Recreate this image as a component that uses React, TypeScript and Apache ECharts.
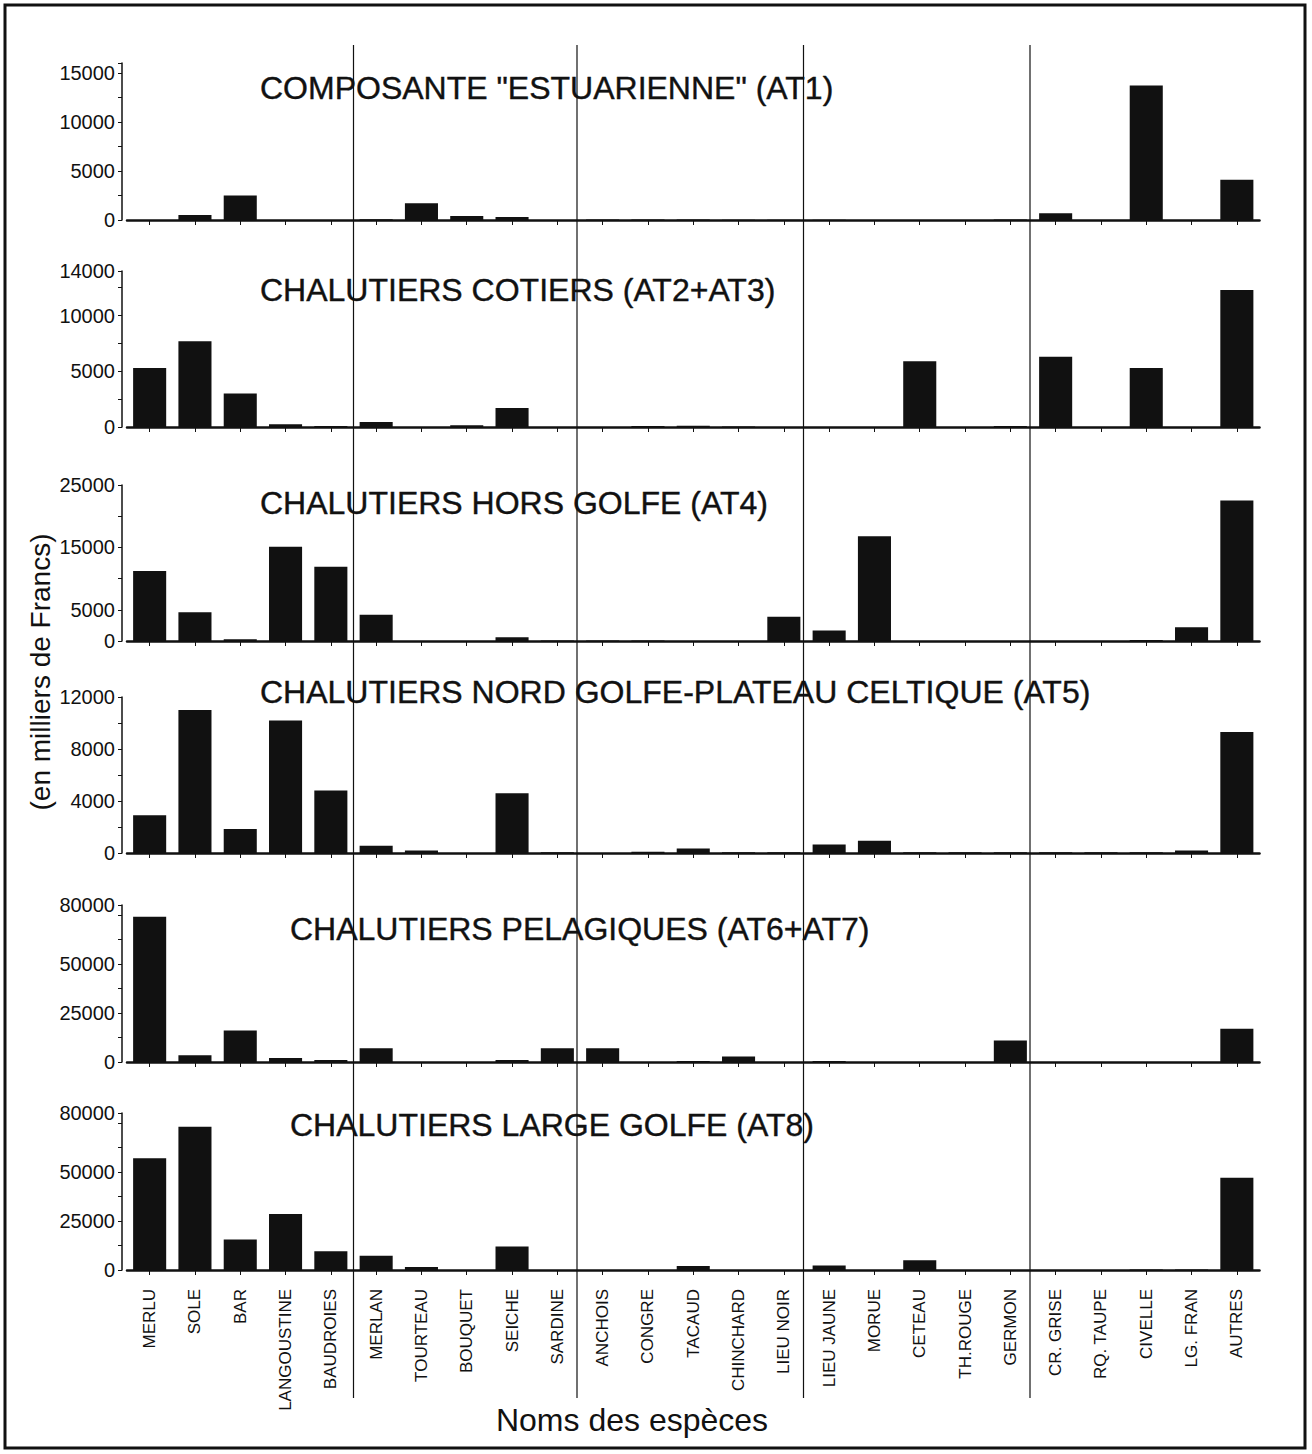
import React, { useEffect, useRef } from "react";
import * as echarts from "echarts";

// ---- data ----
const categories = [
  "MERLU", "SOLE", "BAR", "LANGOUSTINE", "BAUDROIES",
  "MERLAN", "TOURTEAU", "BOUQUET", "SEICHE", "SARDINE",
  "ANCHOIS", "CONGRE", "TACAUD", "CHINCHARD", "LIEU NOIR",
  "LIEU JAUNE", "MORUE", "CETEAU", "TH.ROUGE", "GERMON",
  "CR. GRISE", "RQ. TAUPE", "CIVELLE", "LG. FRAN", "AUTRES",
];

const panelTitles = [
  'COMPOSANTE "ESTUARIENNE" (AT1)',
  "CHALUTIERS COTIERS (AT2+AT3)",
  "CHALUTIERS HORS GOLFE (AT4)",
  "CHALUTIERS NORD GOLFE-PLATEAU CELTIQUE (AT5)",
  "CHALUTIERS PELAGIQUES (AT6+AT7)",
  "CHALUTIERS LARGE GOLFE (AT8)",
];

const valuesAT1 = [0, 500, 2500, 0, 0, 80, 1700, 400, 300, 0, 60, 60, 60, 30, 30, 30, 0, 0, 0, 50, 700, 0, 13700, 0, 4100];
const valuesAT23 = [5300, 7700, 3000, 250, 100, 450, 0, 150, 1700, 0, 0, 100, 120, 50, 0, 0, 0, 5900, 0, 80, 6300, 0, 5300, 0, 12300];
const valuesAT4 = [11200, 4600, 300, 15100, 11900, 4200, 0, 0, 600, 100, 100, 100, 0, 0, 3900, 1700, 16800, 0, 0, 0, 0, 0, 150, 2200, 22500];
const valuesAT5 = [2900, 11000, 1850, 10200, 4800, 550, 200, 0, 4600, 50, 0, 100, 350, 50, 50, 650, 950, 50, 50, 50, 50, 50, 50, 200, 9300];
const valuesAT67 = [74000, 3500, 16000, 2000, 1000, 7000, 0, 0, 1000, 7000, 7000, 0, 500, 2800, 0, 500, 0, 0, 0, 11000, 0, 0, 0, 0, 17000];
const valuesAT8 = [57000, 73000, 15500, 28500, 9500, 7200, 1500, 0, 12000, 0, 0, 0, 2000, 0, 0, 2300, 0, 5000, 0, 0, 0, 0, 300, 300, 47000];

const panelValues = [valuesAT1, valuesAT23, valuesAT4, valuesAT5, valuesAT67, valuesAT8];

const axisMax = [16000, 14000, 25000, 12000, 80000, 80000];
const axisInterval = [2500, 2500, 5000, 2000, 12500, 12500];
const tickLabelsAT1 = [0, 5000, 10000, 15000];
const tickLabelsAT23 = [0, 5000, 10000, 14000];
const tickLabelsAT4 = [0, 5000, 15000, 25000];
const tickLabelsAT5 = [0, 4000, 8000, 12000];
const tickLabelsAT67 = [0, 25000, 50000, 80000];
const tickLabelsAT8 = [0, 25000, 50000, 80000];
const panelTickLabels = [tickLabelsAT1, tickLabelsAT23, tickLabelsAT4, tickLabelsAT5, tickLabelsAT67, tickLabelsAT8];

const yAxisName = "(en milliers de Francs)";
const xAxisName = "Noms des espèces";

// ---- layout ----
const W = 1312;
const H = 1454;
const GRID_LEFT = 127;
const CAT_W = 45.3;
const GRID_W = CAT_W * categories.length;
const gridTops = [63, 271, 485, 697, 905, 1113];
const gridBaselines = [220, 427, 641, 853, 1062, 1270];
const titlePos = [
  [260, 88],
  [260, 290],
  [260, 503],
  [260, 692],
  [290, 929],
  [290, 1125],
];
const INK = "#111";
const FONT = '"Liberation Sans", Arial, Helvetica, sans-serif';

export default function App() {
  const ref = useRef<HTMLDivElement>(null);

  useEffect(() => {
    if (!ref.current) return;
    const chart = echarts.init(ref.current, null, { renderer: "svg" });

    const grids = gridTops.map((top, i) => ({
      left: GRID_LEFT,
      top,
      width: GRID_W,
      height: gridBaselines[i] - top,
      containLabel: false,
      outerBoundsMode: "none",
    }));

    const xAxes = panelValues.map((_, i) => ({
      type: "category",
      gridIndex: i,
      data: categories,
      boundaryGap: true,
      axisLine: { show: true, onZero: false, lineStyle: { color: INK, width: 2.5 } },
      axisTick: { show: true, alignWithLabel: true, length: 5, lineStyle: { color: INK, width: 1 } },
      axisLabel: {
        show: i === panelValues.length - 1,
        interval: 0,
        rotate: 90,
        margin: 19,
        fontSize: 17,
        fontFamily: FONT,
        color: INK,
      },
      splitLine: { show: false },
    }));

    const yAxes = panelValues.map((_, i) => ({
      type: "value",
      gridIndex: i,
      min: 0,
      max: axisMax[i],
      interval: axisInterval[i],
      offset: 5,
      axisLine: { show: true, lineStyle: { color: INK, width: 1.5 } },
      axisTick: { show: true, length: 4, lineStyle: { color: INK, width: 1 } },
      axisLabel: {
        margin: 7,
        fontSize: 20,
        fontFamily: FONT,
        color: INK,
        showMaxLabel: true,
        showMinLabel: true,
        hideOverlap: false,
        formatter: (v: number) => (panelTickLabels[i].includes(v) ? String(v) : ""),
      },
      splitLine: { show: false },
    }));

    const series = panelValues.map((vals, i) => ({
      type: "bar",
      xAxisIndex: i,
      yAxisIndex: i,
      data: vals,
      barWidth: "73%",
      itemStyle: { color: INK },
      silent: true,
    }));

    const separators = [1, 2, 3, 4].map((k) => {
      const x = GRID_LEFT + k * 5 * CAT_W - (k > 1 ? 3 : 0);
      return {
        type: "line",
        shape: { x1: x, y1: 45, x2: x, y2: 1398 },
        style: { stroke: INK, lineWidth: 1.2 },
        silent: true,
      };
    });

    const titles = panelTitles.map((t, i) => ({
      type: "text",
      x: titlePos[i][0],
      y: titlePos[i][1],
      style: {
        text: t,
        fontSize: 32,
        fontFamily: FONT,
        fill: INK,
        align: "left",
        verticalAlign: "middle",
        stroke: INK,
        lineWidth: 0.4,
      },
      silent: true,
    }));

    chart.setOption({
      animation: false,
      backgroundColor: "#ffffff",
      grid: grids,
      xAxis: xAxes,
      yAxis: yAxes,
      series,
      graphic: [
        {
          type: "rect",
          shape: { x: 5, y: 5, width: 1300, height: 1443 },
          style: { fill: "none", stroke: INK, lineWidth: 3 },
          silent: true,
        },
        ...separators,
        ...titles,
        {
          type: "text",
          x: 40,
          y: 672,
          rotation: Math.PI / 2,
          style: {
            text: yAxisName,
            fontSize: 28,
            fontFamily: FONT,
            fill: INK,
            align: "center",
            verticalAlign: "middle",
          },
          silent: true,
        },
        {
          type: "text",
          x: 632,
          y: 1420,
          style: {
            text: xAxisName,
            fontSize: 32,
            fontFamily: FONT,
            fill: INK,
            align: "center",
            verticalAlign: "middle",
          },
          silent: true,
        },
      ],
    });

    return () => chart.dispose();
  }, []);

  return (
    <div
      ref={ref}
      style={{ position: "absolute", left: 0, top: 0, width: W, height: H, background: "#fff" }}
    />
  );
}
